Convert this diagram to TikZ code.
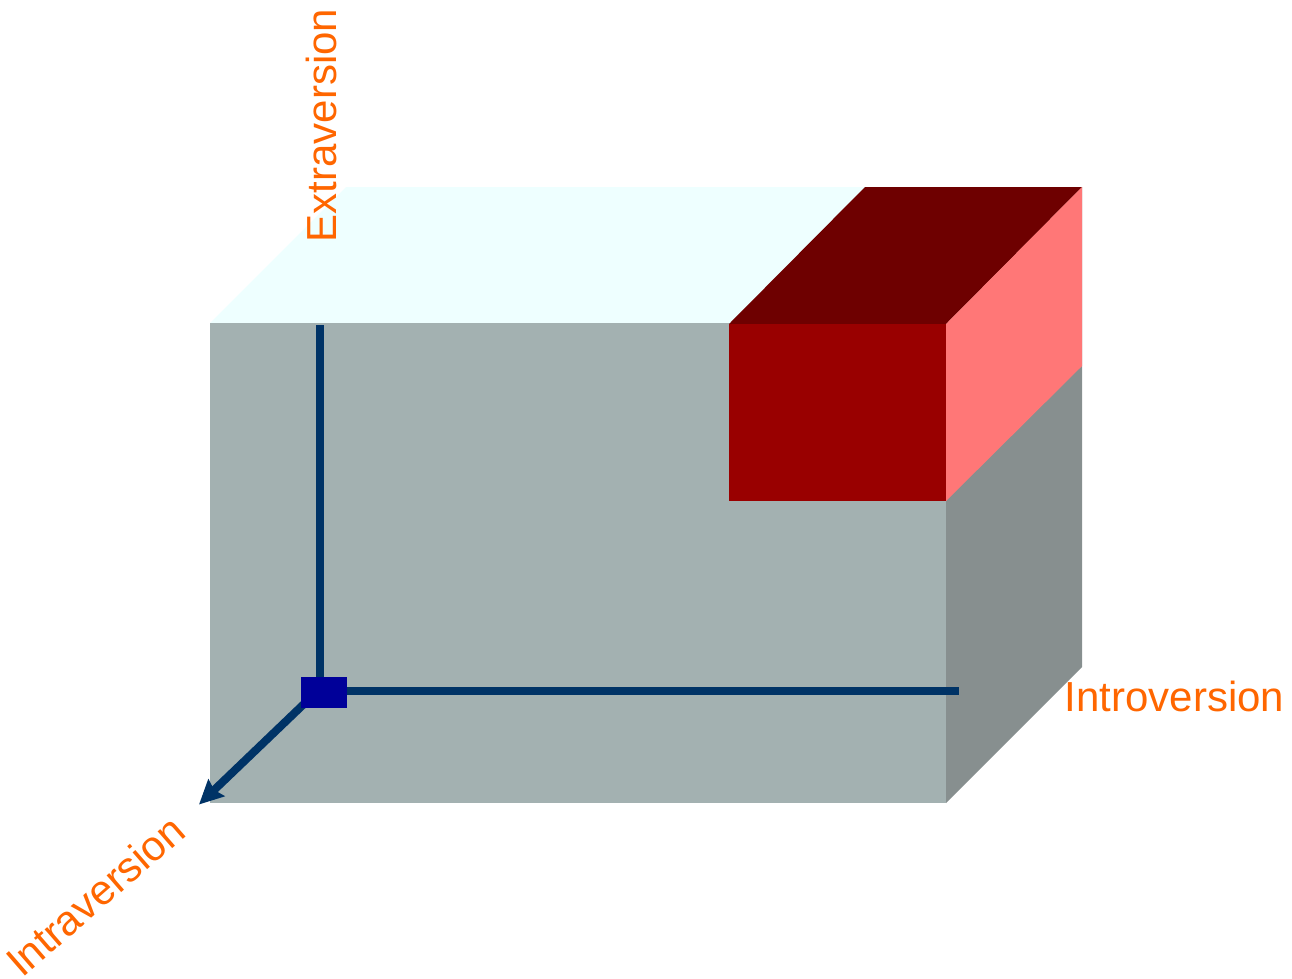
\documentclass[tikz,border=0pt]{standalone}
\usepackage{fontspec}
\setmainfont{Liberation Sans}
\usetikzlibrary{arrows.meta}
\definecolor{frontc}{HTML}{A3B1B1}
\definecolor{sidec}{HTML}{878F8F}
\definecolor{topc}{HTML}{EEFFFF}
\definecolor{redf}{HTML}{990000}
\definecolor{redt}{HTML}{6E0000}
\definecolor{reds}{HTML}{FF7777}
\definecolor{axisc}{HTML}{003366}
\definecolor{blockc}{HTML}{000099}
\definecolor{labelc}{HTML}{FF6600}
\tikzset{
  axisline/.style={draw=axisc,line width=8pt},
  axislabel/.style={text=labelc,font=\fontsize{42}{42}\selectfont,inner sep=0pt,anchor=base west},
  originblock/.style={fill=blockc,draw=none,minimum width=46pt,minimum height=31pt,inner sep=0pt}
}
\begin{document}
\begin{tikzpicture}[x=1pt,y=-1pt]
\useasboundingbox (0,0) rectangle (1292,979);
\fill[topc] (210,323) -- (346,187) -- (1082,187) -- (946,323) -- cycle;
\fill[frontc] (210,323) rectangle (946,803);
\fill[sidec] (946,323) -- (1082,187) -- (1082,667) -- (946,803) -- cycle;
\fill[redt] (729,324) -- (865,187) -- (1082,187) -- (946,324) -- cycle;
\fill[reds] (946,324) -- (1082,187) -- (1082,366) -- (946,501) -- cycle;
\fill[redf] (729,324) rectangle (946,501);
\coordinate (ytop) at (319.5,325);
\coordinate (xend) at (959,691);
\coordinate (zend) at (199,804.5);
\node[originblock] (origin) at (324,692.5) {};
\begin{scope}[on background layer/.try]
\end{scope}
\draw[axisline] (ytop) -- (319.5,677);
\draw[axisline] (347,691) -- (xend);
\draw[axisline,-{Stealth[length=24pt,width=23pt,inset=3pt]}] (306,702) -- (zend);
\node[originblock] at (origin) {};
\node[axislabel] (intro) at (1064.5,711) {Introversion};
\node[axislabel,rotate=90] (extra) at (336,242.5) {Extraversion};
\node[axislabel,rotate=41] (intra) at (22,979) {Intraversion};
\end{tikzpicture}
\end{document}
